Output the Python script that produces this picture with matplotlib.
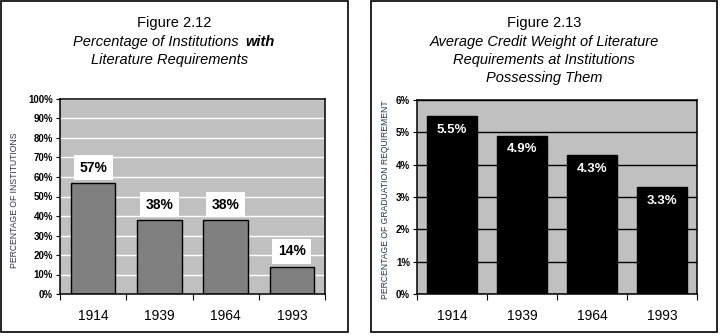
import matplotlib.pyplot as plt
from matplotlib.patches import Rectangle

plt.rcParams['font.family'] = ['Liberation Sans', 'DejaVu Sans']

years = ['1914', '1939', '1964', '1993']
pct_institutions = [57, 38, 38, 14]
credit_weight = [5.5, 4.9, 4.3, 3.3]

W, H = 721, 336
fig = plt.figure(figsize=(W / 100, H / 100), dpi=100)


def px(x0, y0, x1, y1):
    # pixel box (top-left origin) -> figure fraction rect
    return [x0 / W, 1 - y1 / H, (x1 - x0) / W, (y1 - y0) / H]


# panel frames
for x0, x1 in [(1, 348), (371, 717)]:
    fig.patches.append(Rectangle((x0 / W, 1 - 332 / H), (x1 - x0) / W, 331 / H,
                                 transform=fig.transFigure, fill=False,
                                 edgecolor='black', linewidth=1.2))


def fx(x):
    return x / W


def fy(y):
    return 1 - y / H


def setup(ax, ymax, step, grid_color):
    ax.set_facecolor('#c0c0c0')
    ax.set_xlim(-0.5, 3.5)
    ax.set_ylim(0, ymax)
    ax.set_yticks([i * step for i in range(int(round(ymax / step)) + 1)])
    ax.yaxis.grid(True, color=grid_color, linewidth=1)
    ax.set_axisbelow(True)
    for s in ax.spines.values():
        s.set_color('black')
        s.set_linewidth(1.1)
    ax.tick_params(axis='y', length=3, pad=2, labelsize=7)
    ax.set_xticks([-0.5, 0.5, 1.5, 2.5, 3.5])
    ax.set_xticklabels([])
    ax.tick_params(axis='x', which='major', length=4, direction='out')
    ax.set_xticks(range(4), minor=True)
    ax.set_xticklabels(years, minor=True)
    ax.tick_params(axis='x', which='minor', length=0, pad=10.5, labelsize=10)


# Figure 2.12
ax1 = fig.add_axes(px(60, 99, 325, 294))
ax1.bar(range(4), pct_institutions, width=0.67, color='#808080',
        edgecolor='black', linewidth=1)
setup(ax1, 100, 10, 'white')
ax1.set_yticklabels([f'{v}%' for v in range(0, 101, 10)], fontweight='bold')
for i, v in enumerate(pct_institutions):
    ax1.annotate(f'{v}%', (i, v), xytext=(0, 11), textcoords='offset points',
                 ha='center', va='center', fontsize=10, fontweight='bold',
                 bbox=dict(boxstyle='square,pad=0.4', facecolor='white',
                           edgecolor='none'))
fig.text(fx(15), fy(200), 'PERCENTAGE OF INSTITUTIONS', rotation=90,
         ha='center', va='center', fontsize=6.2, color='#2b3550')

fig.text(fx(174), fy(23), 'Figure 2.12', ha='center', va='center', fontsize=10.5)
fig.text(fx(239), fy(42), 'Percentage of Institutions', ha='right', va='center',
         fontsize=10.5, style='italic')
fig.text(fx(245), fy(42), 'with', ha='left', va='center',
         fontsize=10.5, style='italic', fontweight='bold')
fig.text(fx(170), fy(60), 'Literature Requirements', ha='center', va='center',
         fontsize=10.5, style='italic')

# Figure 2.13
ax2 = fig.add_axes(px(417, 100, 697, 294))
ax2.bar(range(4), credit_weight, width=0.71, color='black',
        edgecolor='black', linewidth=1)
setup(ax2, 6, 1, 'black')
ax2.set_yticklabels([f'{v}%' for v in range(0, 7)], fontweight='bold')
for i, v in enumerate(credit_weight):
    ax2.annotate(f'{v}%', (i, v), xytext=(0, -10), textcoords='offset points',
                 ha='center', va='center', fontsize=9.5, fontweight='bold',
                 color='white')
fig.text(fx(385), fy(200), 'PERCENTAGE OF GRADUATION REQUIREMENT', rotation=90,
         ha='center', va='center', fontsize=6.2, color='#2b3550')

fig.text(fx(544), fy(23), 'Figure 2.13', ha='center', va='center', fontsize=10.5)
fig.text(fx(544), fy(42), 'Average Credit Weight of Literature', ha='center',
         va='center', fontsize=10.5, style='italic')
fig.text(fx(544), fy(60), 'Requirements at Institutions', ha='center',
         va='center', fontsize=10.5, style='italic')
fig.text(fx(544), fy(78), 'Possessing Them', ha='center',
         va='center', fontsize=10.5, style='italic')

fig.savefig('out.png', dpi=100)
